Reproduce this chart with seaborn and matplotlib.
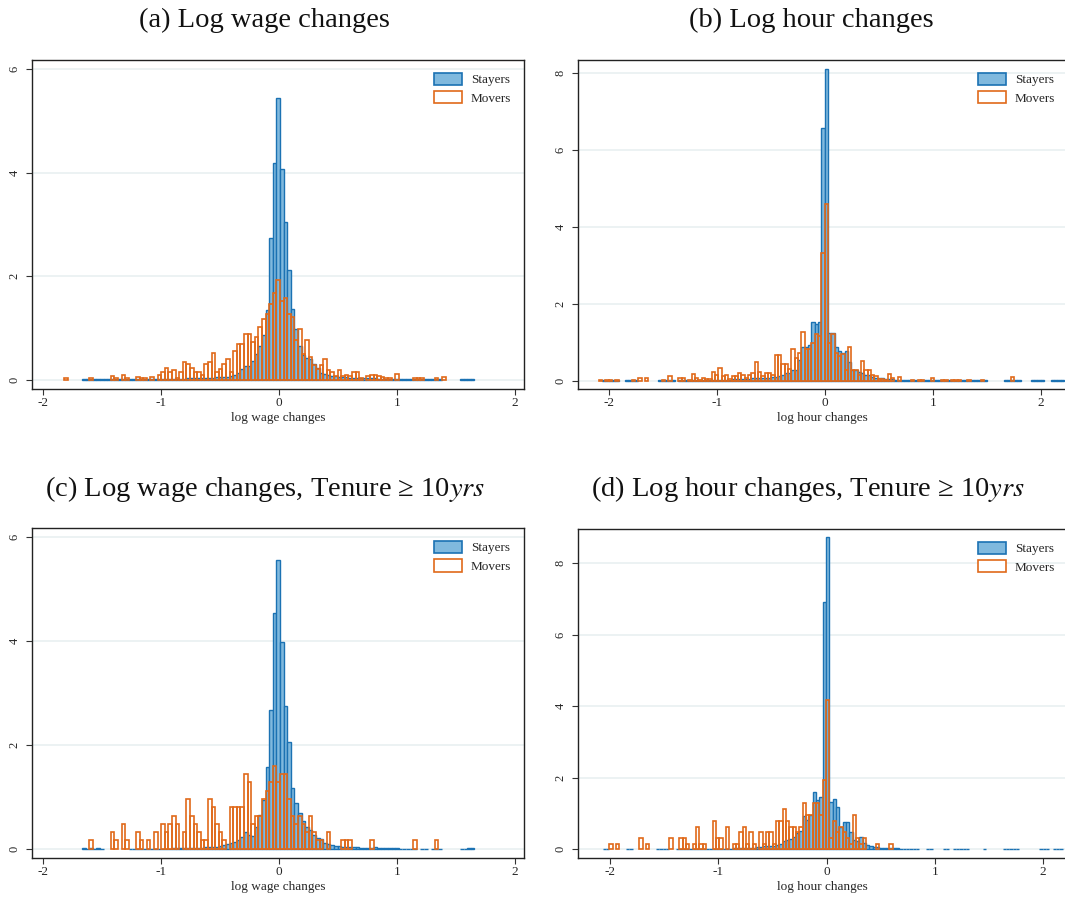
import numpy as np
import pandas as pd
import matplotlib
matplotlib.use("Agg")
import matplotlib.pyplot as plt
from matplotlib.patches import Patch
import seaborn as sns

sns.set_theme(style="white")
plt.rcParams['font.family'] = ['Liberation Serif', 'DejaVu Serif']
plt.rcParams['mathtext.fontset'] = 'stix'

# ---------------- data ----------------
titles = ["(a) Log wage changes", "(b) Log hour changes",
          "(c) Log wage changes, Tenure \u2265 10$yrs$",
          "(d) Log hour changes, Tenure \u2265 10$yrs$"]
xlabels = ["log wage changes", "log hour changes", "log wage changes", "log hour changes"]
series_names = ["Stayers", "Movers"]
xtick_vals = [-2, -1, 0, 1, 2]
xtick_labels = ["-2", "-1", "0", "1", "2"]
ytick_wage = [0, 2, 4, 6]
ytick_hour = [0, 2, 4, 6, 8]

# histogram bins: first edge and bin width
wage_bin_start = -1.82
wage_bin_width = 0.0305
hour_bin_start = -2.1004
hour_bin_width = 0.0308

# (a) log wage changes, all (114 bins)
wage_stayers = [
    0, 0, 0, 0, 0, 0.015, 0.015, 0.015, 0.015, 0.015,
    0.015, 0.015, 0.01, 0.01, 0.01, 0.01, 0.01, 0.01, 0.01, 0.01,
    0.012, 0.012, 0.012, 0.015, 0.015, 0.015, 0.018, 0.018, 0.02, 0.02,
    0.02, 0.025, 0.025, 0.025, 0.03, 0.03, 0.03, 0.035, 0.035, 0.04,
    0.04, 0.045, 0.048, 0.05, 0.055, 0.06, 0.08, 0.10, 0.13, 0.21,
    0.26, 0.27, 0.37, 0.51, 0.66, 0.87, 1.35, 2.73, 4.19, 5.43,
    4.07, 3.04, 2.13, 1.36, 0.98, 0.66, 0.48, 0.42, 0.40, 0.31,
    0.23, 0.14, 0.11, 0.09, 0.08, 0.07, 0.06, 0.05, 0.05, 0.045,
    0.04, 0.04, 0.035, 0.035, 0.03, 0.03, 0.03, 0.025, 0.025, 0.02,
    0.02, 0.02, 0.02, 0.015, 0.015, 0.015, 0.012, 0.012, 0.012, 0.012,
    0.01, 0.01, 0.01, 0.01, 0.01, 0, 0, 0, 0, 0,
    0.015, 0.015, 0.02, 0.015]
wage_movers = [
    0.04, 0, 0, 0, 0, 0, 0, 0.04, 0, 0,
    0, 0, 0, 0.07, 0.03, 0, 0.10, 0.03, 0, 0,
    0.06, 0.03, 0.03, 0, 0.06, 0, 0.10, 0.15, 0.23, 0.15,
    0.19, 0.03, 0.15, 0.35, 0.31, 0.24, 0.15, 0.15, 0.10, 0.31,
    0.35, 0.53, 0.15, 0.21, 0.31, 0.40, 0.15, 0.56, 0.69, 0.69,
    0.89, 0.89, 0.73, 0.82, 1.02, 1.18, 1.27, 1.46, 1.67, 1.92,
    1.52, 1.59, 1.27, 1.22, 0.77, 0.98, 0.50, 0.77, 0.44, 0.28,
    0.21, 0.28, 0.40, 0.19, 0.15, 0.08, 0.19, 0.08, 0.10, 0.08,
    0.15, 0.15, 0.03, 0, 0.08, 0.10, 0.10, 0.08, 0.06, 0.03,
    0.03, 0, 0.12, 0, 0, 0, 0, 0.04, 0.04, 0.04,
    0, 0, 0, 0.04, 0, 0.06, 0, 0, 0, 0,
    0, 0, 0, 0]

# (b) log hour changes, all (140 bins)
hour_stayers = [
    0, 0.01, 0.01, 0.01, 0.01, 0.01, 0, 0, 0.01, 0.01,
    0.01, 0.01, 0, 0, 0, 0, 0, 0, 0.01, 0.01,
    0.01, 0.01, 0.01, 0, 0.01, 0.01, 0.01, 0.012, 0.012, 0.012,
    0.015, 0.015, 0.015, 0.02, 0.02, 0.02, 0.025, 0.025, 0.03, 0.03,
    0.04, 0.04, 0.04, 0.05, 0.05, 0.05, 0.06, 0.06, 0.07, 0.07,
    0.08, 0.08, 0.09, 0.10, 0.12, 0.15, 0.19, 0.19, 0.29, 0.29,
    0.54, 0.88, 0.87, 0.93, 1.53, 1.48, 1.53, 6.57, 8.11, 1.25,
    1.23, 0.88, 0.77, 0.71, 0.78, 0.49, 0.29, 0.29, 0.23, 0.19,
    0.15, 0.15, 0.10, 0.08, 0.08, 0.06, 0.05, 0.04, 0.04, 0.03,
    0.03, 0.03, 0.03, 0.03, 0.02, 0.02, 0.02, 0.02, 0.02, 0.02,
    0.02, 0.02, 0.02, 0.02, 0.01, 0.01, 0.01, 0.01, 0.01, 0.01,
    0.01, 0.01, 0.01, 0.01, 0.01, 0.01, 0.01, 0, 0, 0,
    0, 0, 0.01, 0.01, 0.01, 0.01, 0.01, 0, 0, 0,
    0.01, 0.01, 0.01, 0.01, 0, 0, 0.01, 0.01, 0.01, 0.01]
hour_movers = [
    0.03, 0, 0.03, 0.03, 0, 0.03, 0, 0, 0, 0,
    0.03, 0, 0.08, 0, 0.08, 0, 0, 0, 0, 0.03,
    0, 0.12, 0, 0, 0.08, 0.08, 0, 0.03, 0.17, 0.08,
    0.03, 0.06, 0.05, 0.05, 0.23, 0.15, 0.32, 0.12, 0.16, 0.05,
    0.12, 0.12, 0.19, 0.16, 0.08, 0.16, 0.19, 0.49, 0.23, 0.12,
    0.21, 0.21, 0.16, 0.66, 0.66, 0.43, 0.43, 0.30, 0.82, 0.60,
    0.73, 1.27, 0.82, 0.82, 0.97, 1.21, 1.16, 3.31, 4.61, 0.97,
    1.21, 0.71, 0.65, 0.69, 0.29, 0.87, 0.28, 0.29, 0.15, 0.52,
    0.28, 0.28, 0.15, 0.13, 0.05, 0.05, 0.03, 0.17, 0.06, 0,
    0.10, 0, 0, 0, 0.03, 0, 0.03, 0.03, 0, 0,
    0.08, 0, 0, 0.03, 0.03, 0, 0.03, 0.03, 0.03, 0,
    0, 0.03, 0, 0, 0, 0.03, 0, 0, 0, 0,
    0, 0, 0, 0, 0.10, 0, 0, 0, 0, 0,
    0, 0, 0, 0, 0, 0, 0, 0, 0, 0]

# (c) log wage changes, tenure >= 10 yrs (114 bins)
wage10_stayers = [
    0, 0, 0, 0, 0, 0.02, 0.015, 0.02, 0.015, 0.02,
    0.01, 0, 0, 0, 0, 0, 0, 0, 0.01, 0.01,
    0.01, 0.01, 0.01, 0.01, 0.01, 0.012, 0.012, 0.015, 0.015, 0.015,
    0.02, 0.02, 0.02, 0.02, 0.025, 0.025, 0.025, 0.03, 0.03, 0.035,
    0.04, 0.045, 0.05, 0.06, 0.08, 0.10, 0.12, 0.15, 0.18, 0.24,
    0.34, 0.28, 0.26, 0.42, 0.66, 0.95, 1.58, 2.68, 4.55, 5.56,
    3.98, 2.76, 2.06, 1.18, 0.90, 0.69, 0.55, 0.42, 0.38, 0.28,
    0.21, 0.19, 0.12, 0.10, 0.08, 0.07, 0.06, 0.05, 0.05, 0.04,
    0.04, 0.04, 0.03, 0.03, 0.03, 0.03, 0.04, 0.03, 0.03, 0.02,
    0.02, 0.02, 0.02, 0.015, 0.015, 0.015, 0.01, 0.01, 0, 0.01,
    0.01, 0, 0.01, 0.01, 0.01, 0, 0, 0, 0, 0,
    0.015, 0.015, 0.02, 0.02]
wage10_movers = [
    0, 0, 0, 0, 0, 0, 0, 0.17, 0, 0,
    0, 0, 0, 0.33, 0.17, 0, 0.49, 0.17, 0, 0,
    0.33, 0.17, 0, 0.17, 0, 0.33, 0, 0.49, 0.33, 0.49,
    0.65, 0.49, 0, 0.33, 0.97, 0.65, 0.49, 0.33, 0.17, 0.17,
    0.97, 0.81, 0.49, 0.33, 0.17, 0, 0.81, 0.81, 0.81, 0.81,
    1.45, 1.29, 0.49, 0.65, 0.65, 0.97, 1.13, 1.30, 1.61, 1.29,
    1.45, 1.45, 0.97, 0.65, 0.49, 0.65, 0.49, 0.33, 0.65, 0.33,
    0.17, 0.17, 0, 0.33, 0, 0, 0, 0.17, 0.17, 0.17,
    0, 0, 0, 0, 0, 0.17, 0, 0, 0, 0,
    0, 0, 0, 0, 0, 0, 0, 0.17, 0, 0,
    0, 0, 0, 0.17, 0, 0, 0, 0, 0, 0,
    0, 0, 0, 0]

# (d) log hour changes, tenure >= 10 yrs (140 bins)
hour10_stayers = [
    0, 0.01, 0.01, 0, 0, 0, 0, 0, 0.01, 0.01,
    0, 0, 0, 0, 0, 0, 0, 0.01, 0.01, 0.01,
    0.01, 0, 0, 0.01, 0.01, 0.01, 0.01, 0.01, 0.012, 0.012,
    0.012, 0.015, 0.015, 0.015, 0.015, 0.02, 0.02, 0.02, 0.02, 0.02,
    0.03, 0.03, 0.03, 0.04, 0.04, 0.05, 0.05, 0.06, 0.07, 0.08,
    0.09, 0.10, 0.10, 0.12, 0.15, 0.22, 0.27, 0.30, 0.35, 0.45,
    0.50, 0.93, 0.82, 0.96, 1.59, 1.38, 1.45, 6.93, 8.73, 1.31,
    1.41, 1.17, 0.62, 0.75, 0.75, 0.47, 0.26, 0.24, 0.34, 0.19,
    0.11, 0.08, 0.07, 0.06, 0.05, 0.04, 0.04, 0.03, 0.03, 0.03,
    0.02, 0.02, 0.02, 0.02, 0.015, 0.015, 0, 0, 0.01, 0.01,
    0, 0, 0, 0.01, 0.01, 0, 0.01, 0.01, 0.01, 0.01,
    0.01, 0, 0, 0, 0, 0.01, 0, 0, 0, 0,
    0, 0.01, 0.01, 0.01, 0.01, 0.01, 0, 0, 0, 0,
    0, 0, 0.01, 0.01, 0.01, 0, 0.01, 0.01, 0.01, 0]
hour10_movers = [
    0, 0, 0, 0.15, 0, 0.15, 0, 0, 0, 0,
    0, 0, 0.31, 0, 0.15, 0, 0, 0, 0, 0,
    0, 0.31, 0, 0, 0.31, 0.31, 0.15, 0, 0.15, 0.63,
    0.15, 0.15, 0, 0, 0.80, 0.31, 0.31, 0, 0.63, 0,
    0.15, 0.15, 0.47, 0.63, 0.15, 0.47, 0.15, 0, 0.47, 0.15,
    0.47, 0.47, 0.15, 0.80, 0.80, 1.12, 0.80, 0.63, 0.63, 0.47,
    0.63, 1.29, 0.96, 0.96, 1.29, 1.29, 0.96, 1.94, 4.18, 0.31,
    0.80, 0.47, 0.63, 0.47, 0.31, 0.15, 0.96, 0.31, 0.15, 0.31,
    0, 0, 0, 0.15, 0, 0, 0, 0.15, 0, 0,
    0, 0, 0, 0, 0, 0, 0, 0, 0, 0,
    0, 0, 0, 0, 0, 0, 0, 0, 0, 0,
    0, 0, 0, 0, 0, 0, 0, 0, 0, 0,
    0, 0, 0, 0, 0, 0, 0, 0, 0, 0,
    0, 0, 0, 0, 0, 0, 0, 0, 0, 0]

# ---------------- style ----------------
BLUE_FILL = "#80b9de"
BLUE_EDGE = "#1b72b3"
ORANGE = "#e0691a"
GRID = "#ebf1f2"

W, H = 1065, 900
fig = plt.figure(figsize=(W / 100, H / 100), dpi=100)
fig.patch.set_facecolor("white")


def add_ax(left, top, right, bottom):
    return fig.add_axes([left / W, 1 - bottom / H, (right - left) / W, (bottom - top) / H])


def draw(ax, start, width, stay, move, xlim, ylim, yticks, xlabel):
    n = len(stay)
    edges = [float(e) for e in (start + width * np.arange(n + 1))]
    centers = [(edges[i] + edges[i + 1]) / 2 for i in range(n)]
    df = pd.DataFrame({"x": centers, "stay": stay, "move": move})
    sns.histplot(data=df, x="x", weights="stay", bins=edges, stat="count",
                 fill=True, color=BLUE_FILL, alpha=1, edgecolor=BLUE_EDGE,
                 linewidth=1.0, ax=ax, zorder=2)
    sns.histplot(data=df, x="x", weights="move", bins=edges, stat="count",
                 fill=False, color=ORANGE, linewidth=1.2, ax=ax, zorder=3)
    for p in ax.patches:
        if p.get_height() <= 0:
            p.set_visible(False)
    ax.set_xlim(*xlim)
    ax.set_ylim(*ylim)
    ax.set_xticks(xtick_vals)
    ax.set_xticklabels(xtick_labels, fontsize=9.5)
    ax.set_yticks(yticks)
    ax.set_yticklabels([str(v) for v in yticks], rotation=90, va="center", fontsize=9)
    ax.set_axisbelow(True)
    ax.yaxis.grid(True, color=GRID, linewidth=1.3)
    ax.xaxis.grid(False)
    ax.tick_params(axis="both", which="both", bottom=True, left=True, direction="out",
                   length=4, width=0.8, color="#333333")
    ax.tick_params(axis="y", pad=4)
    ax.tick_params(axis="x", pad=2)
    ax.set_ylabel("")
    ax.set_xlabel(xlabel, fontsize=9.5, labelpad=2)
    for s in ax.spines.values():
        s.set_color("#222222")
        s.set_linewidth(1.0)
        s.set_visible(True)
    handles = [Patch(facecolor=BLUE_FILL, edgecolor=BLUE_EDGE, linewidth=1.2, label=series_names[0]),
               Patch(facecolor="white", edgecolor=ORANGE, linewidth=1.2, label=series_names[1])]
    ax.legend(handles=handles, loc="upper right", frameon=False, fontsize=9.5,
              handlelength=2.1, handleheight=1.05, handletextpad=0.7,
              labelspacing=0.38, borderaxespad=0.55)


ax_a = add_ax(32, 60, 524, 389)
ax_b = add_ax(577.7, 60, 1068, 389)
ax_c = add_ax(32, 528.3, 524, 857.7)
ax_d = add_ax(577.7, 529, 1068, 857.7)

draw(ax_a, wage_bin_start, wage_bin_width, wage_stayers, wage_movers,
     (-2.091, 2.078), (-0.174, 6.172), ytick_wage, xlabels[0])
draw(ax_b, hour_bin_start, hour_bin_width, hour_stayers, hour_movers,
     (-2.294, 2.25), (-0.216, 8.345), ytick_hour, xlabels[1])
draw(ax_c, wage_bin_start, wage_bin_width, wage10_stayers, wage10_movers,
     (-2.091, 2.078), (-0.1615, 6.173), ytick_wage, xlabels[2])
draw(ax_d, hour_bin_start, hour_bin_width, hour10_stayers, hour10_movers,
     (-2.30, 2.23), (-0.235, 8.96), ytick_hour, xlabels[3])

title_pos = [(264, 26.7), (811, 26.7), (265, 496), (808, 496)]
for t, (x, y) in zip(titles, title_pos):
    fig.text(x / W, 1 - y / H, t, ha="center", va="baseline", fontsize=20.5,
             family="Liberation Serif", color="#111111")

fig.savefig("out.png", dpi=100, facecolor="white")
